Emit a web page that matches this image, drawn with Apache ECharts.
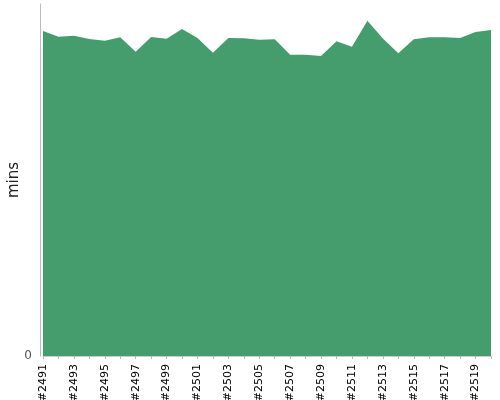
<!DOCTYPE html>
<html><head><meta charset="utf-8">
<script src="https://cdn.jsdelivr.net/npm/echarts@6/dist/echarts.min.js"></script>
<style>html,body{margin:0;padding:0;background:#fff}#c{width:500px;height:400px}</style>
</head><body><div id="c"></div>
<script>
var categories = ['#2491','#2492','#2493','#2494','#2495','#2496','#2497','#2498','#2499','#2500','#2501','#2502','#2503','#2504','#2505','#2506','#2507','#2508','#2509','#2510','#2511','#2512','#2513','#2514','#2515','#2516','#2517','#2518','#2519','#2520'];
var minsValues = [325, 319.3, 320.3, 317, 315.3, 318.7, 304.3, 319, 317.3, 327, 318, 303.3, 318, 317.7, 316.3, 316.7, 301.3, 301.3, 300, 314.7, 309.3, 335.3, 317.4, 302.7, 316.7, 318.7, 318.7, 318, 324, 326];
var yTickLabels = ['0'];
var chart = echarts.init(document.getElementById('c'), null, {renderer:'canvas'});
chart.setOption({
  animation: false,
  grid: {left: 43, right: 9, top: 4, bottom: 44, containLabel: false, outerBoundsMode: 'none'},
  xAxis: {
    type: 'category', data: categories, boundaryGap: false, offset: 4,
    axisLine: {lineStyle: {color: '#ccc'}},
    axisTick: {show: true, interval: 0, length: 3, lineStyle: {color: '#bbb'}},
    axisLabel: {rotate: 90, interval: 1, color: '#000', fontSize: 11, fontFamily: 'DejaVu Sans', margin: 4}
  },
  yAxis: {
    type: 'value', min: 0, max: 352, offset: 3,
    name: 'mins', nameLocation: 'middle', nameGap: 18, nameMoveOverlap: false,
    nameTextStyle: {color: '#222', fontSize: 15, fontFamily: 'DejaVu Sans'},
    axisLine: {show: true, lineStyle: {color: '#bbb'}},
    axisTick: {show: false},
    splitLine: {show: false},
    axisLabel: {color: '#555', fontSize: 12, fontFamily: 'DejaVu Sans', margin: 8,
      formatter: function(v){ return v === 0 ? yTickLabels[0] : ''; }}
  },
  series: [{
    type: 'line', data: minsValues, showSymbol: false,
    lineStyle: {width: 0, color: '#459c6c'},
    areaStyle: {color: '#459c6c', opacity: 1},
    itemStyle: {color: '#459c6c'}
  }]
});
</script></body></html>
